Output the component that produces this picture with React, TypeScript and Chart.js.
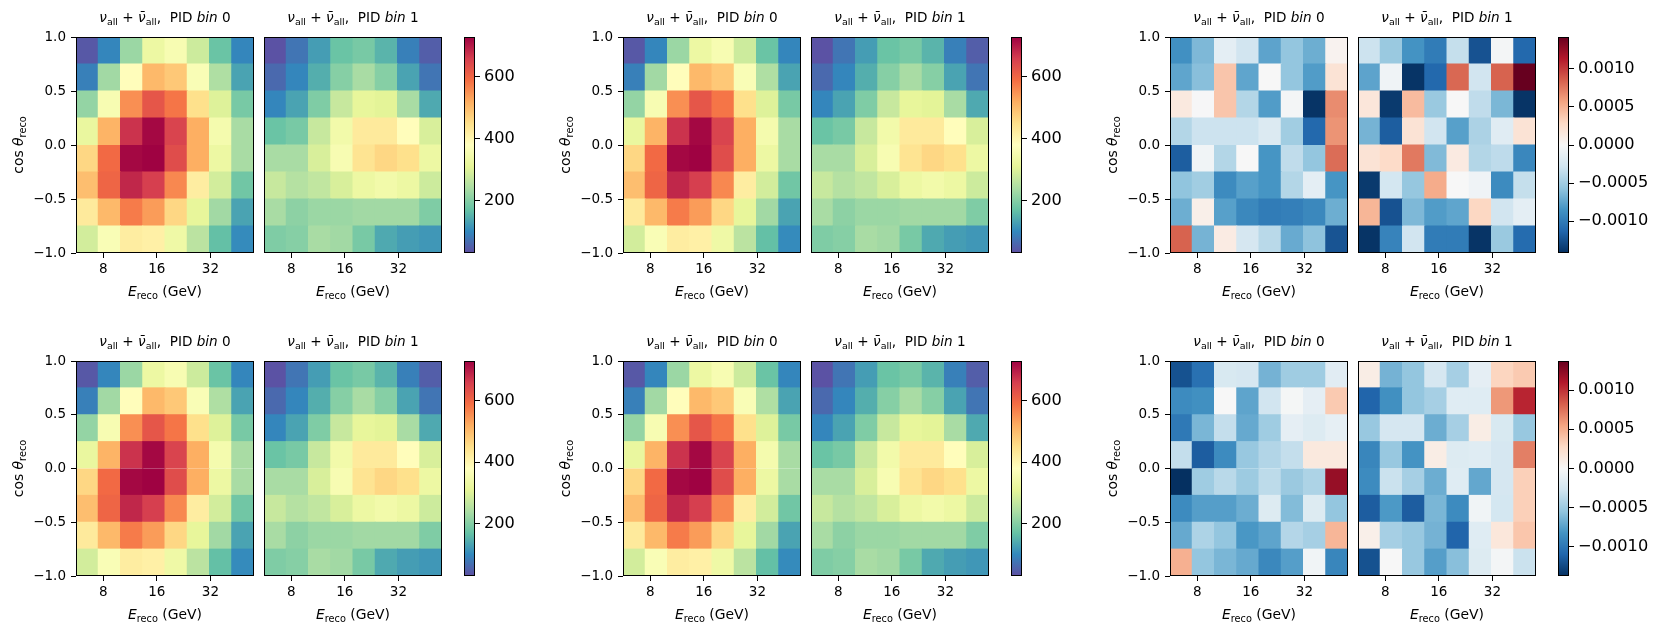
import React, { useEffect, useRef } from 'react';
import { Chart, registerables } from 'chart.js';

Chart.register(...registerables);
Chart.defaults.font.family = '"DejaVu Sans", sans-serif';
Chart.defaults.color = '#000';

// ---------------- data ----------------
// reconstructed energy bin edges (GeV, log-uniform) and cos(zenith) bin edges
const energyBinEdges = [5.623, 7.499, 10.0, 13.335, 17.783, 23.714, 31.623, 42.17, 56.234];
const cosZenithBinEdges = [-1.0, -0.75, -0.5, -0.25, 0.0, 0.25, 0.5, 0.75, 1.0];
const energyTickValues = [8, 16, 32];
const cosZenithTickValues = [-1.0, -0.5, 0.0, 0.5, 1.0];
const countTickValues = [200, 400, 600];
const diffTickValues = [-0.001, -0.0005, 0.0, 0.0005, 0.001];
const countColorRange = [30, 728];
const diffColorLimits = [0.00142, 0.00137]; // symmetric limits, top row / bottom row
const pidBins = [0, 1];

// each matrix: rows from top (cos 0.75..1.0) to bottom (cos -1.0..-0.75), columns = energy bins
const countsPid0 = [
  [41, 97, 223, 328, 356, 279, 174, 97],
  [90, 230, 384, 503, 482, 363, 244, 132],
  [216, 356, 552, 622, 580, 447, 300, 188],
  [321, 510, 671, 720, 650, 517, 349, 237],
  [461, 594, 720, 727, 636, 517, 328, 237],
  [496, 601, 685, 657, 559, 419, 286, 181],
  [426, 503, 573, 538, 461, 314, 230, 132],
  [286, 363, 419, 412, 335, 258, 167, 104],
];
const countsPid1 = [
  [34, 76, 125, 174, 188, 153, 90, 48],
  [62, 97, 146, 202, 237, 202, 132, 76],
  [97, 132, 195, 272, 314, 307, 237, 139],
  [174, 188, 272, 342, 426, 426, 384, 293],
  [237, 237, 293, 356, 440, 461, 447, 328],
  [272, 251, 265, 293, 328, 342, 328, 279],
  [237, 209, 223, 223, 230, 230, 230, 195],
  [195, 202, 237, 230, 188, 139, 125, 118],
];
const diffTopPid0 = [
  [-0.00087, -0.00064, -0.00014, -0.00028, -0.00076, -0.00056, -0.0007, 0.00005],
  [-0.00075, -0.0006, 0.0004, -0.00075, 0.0, -0.00056, -0.0008, 0.0002],
  [0.00014, -0.00001, 0.0004, -0.00042, -0.0008, -0.00003, -0.0014, 0.00067],
  [-0.00042, -0.0003, -0.0003, -0.0003, -0.0002, -0.0005, -0.00112, 0.00064],
  [-0.00118, -0.00005, -0.00042, 0.0, -0.00084, -0.00036, -0.00056, 0.0008],
  [-0.00057, -0.0005, -0.0009, -0.00078, -0.00084, -0.00042, -0.00014, -0.00084],
  [-0.0007, 0.00008, -0.00078, -0.00092, -0.001, -0.00098, -0.00092, -0.0007],
  [0.00084, -0.00067, 0.00012, -0.00025, -0.00039, -0.00072, -0.00058, -0.00123],
];
const diffTopPid1 = [
  [-0.0003, -0.00053, -0.00085, -0.001, -0.00034, -0.00124, -0.00003, -0.00112],
  [-0.00076, -0.00006, -0.0014, -0.00112, 0.00082, -0.00028, 0.00084, 0.00142],
  [0.00017, -0.00137, 0.00045, -0.00053, 0.0, -0.00036, -0.00065, -0.0014],
  [-0.00067, -0.00118, 0.0002, -0.00028, -0.00078, -0.00045, -0.00017, 0.0002],
  [0.0002, 0.00027, 0.00075, -0.00063, 0.00013, -0.00042, -0.00037, -0.00093],
  [-0.00137, -0.00026, -0.00055, 0.00053, 0.0, -0.00006, -0.0009, -0.00034],
  [0.00048, -0.00124, -0.00064, -0.0008, -0.00075, 0.0003, -0.00028, -0.00014],
  [-0.0014, -0.00095, -0.00028, -0.001, -0.001, -0.0014, -0.00053, -0.0011],
];
const diffBottomPid0 = [
  [-0.0012, -0.00103, -0.00022, -0.00024, -0.00065, -0.00049, -0.00049, -0.00016],
  [-0.00087, -0.00084, 0.0, -0.00073, -0.00027, -0.00002, -0.00013, 0.00036],
  [-0.00098, -0.00063, -0.00033, -0.0007, -0.00049, -0.00013, -0.00019, -0.00012],
  [-0.00033, -0.00114, -0.00087, -0.00052, -0.00041, -0.00033, 0.00014, 0.00014],
  [-0.00137, -0.00049, -0.00038, -0.0005, -0.00036, -0.00051, -0.00043, 0.0012],
  [-0.00087, -0.00076, -0.00076, -0.00068, -0.00019, -0.0006, -0.00019, -0.00054],
  [-0.0007, -0.00043, -0.00054, -0.0008, -0.00073, -0.0004, -0.00046, 0.00046],
  [0.00049, -0.00054, -0.00063, -0.0007, -0.00089, -0.00076, -0.00005, -0.0009],
];
const diffBottomPid1 = [
  [0.0001, -0.00065, -0.00054, -0.00024, -0.00046, -0.00013, 0.0003, 0.00036],
  [-0.0011, -0.00084, -0.00054, -0.00046, -0.00017, -0.00017, 0.0006, 0.00105],
  [-0.00052, -0.00024, -0.00024, -0.00068, -0.00046, 0.0001, -0.00022, -0.00052],
  [-0.0009, -0.00052, -0.00082, 0.0001, -0.00019, -0.00017, -0.00024, 0.0007],
  [-0.00087, -0.0003, -0.00046, -0.00068, -0.00017, -0.00071, -0.00024, 0.00033],
  [-0.00114, -0.00079, -0.00114, -0.00063, -0.00087, -0.00005, -0.00025, 0.00033],
  [0.00008, -0.00046, -0.00052, -0.00065, -0.0011, -0.00017, 0.00016, 0.00038],
  [-0.0012, 0.0, -0.00052, -0.00076, -0.00058, -0.00019, -0.00003, -0.0003],
];

// ---------------- styling / layout ----------------
const SPECTRAL_R = ['#5e4fa2', '#3288bd', '#66c2a5', '#abdda4', '#e6f598', '#ffffbf', '#fee08b', '#fdae61', '#f46d43', '#d53e4f', '#9e0142'];
const RDBU_R = ['#053061', '#2166ac', '#4393c3', '#92c5de', '#d1e5f0', '#f7f7f7', '#fddbc7', '#f4a582', '#d6604d', '#b2182b', '#67001f'];

const FONT = '"DejaVu Sans", sans-serif';
const TICK_SIZE = 13.5;
const CB_TICK_SIZE = 16.2;
const PANEL_W = 178;
const CB_W = 11;
const PAD_L = 75;
const PAD_R = 6;
const PAD_T = 40;
const PAD_B = 50;
const Y_AXIS_W = 45;
const X_AXIS_H = 30;
const CB_AXIS_W = 84;
const ROWS = [
  { top: 37, height: 216 },
  { top: 361, height: 215 },
];
const GROUPS = [
  { lefts: [76, 264], cbLeft: 464, kind: 'counts' },
  { lefts: [623, 811], cbLeft: 1011, kind: 'counts' },
  { lefts: [1170, 1358], cbLeft: 1558, kind: 'diff' },
];

function hexToRgb(h: string) {
  return [1, 3, 5].map((i) => parseInt(h.slice(i, i + 2), 16));
}
function colormap(stops: string[], t: number) {
  const tt = Math.min(1, Math.max(0, t));
  const pos = tt * (stops.length - 1);
  const i = Math.min(stops.length - 2, Math.floor(pos));
  const f = pos - i;
  const a = hexToRgb(stops[i]);
  const b = hexToRgb(stops[i + 1]);
  const c = a.map((v, k) => Math.round(v + (b[k] - v) * f));
  return `rgb(${c[0]},${c[1]},${c[2]})`;
}
const signed = (v: number, d: number) => (v < 0 ? '\u2212' : '') + Math.abs(v).toFixed(d);

type Run = { t: string; it?: boolean; sub?: boolean };
function drawRich(ctx: CanvasRenderingContext2D, runs: Run[], cx: number, cy: number, size: number) {
  const fontOf = (r: Run) => `${r.it ? 'italic ' : ''}${r.sub ? size * 0.7 : size}px ${FONT}`;
  let total = 0;
  const widths = runs.map((r) => {
    ctx.font = fontOf(r);
    const w = ctx.measureText(r.t).width;
    total += w;
    return w;
  });
  let x = cx - total / 2;
  ctx.textAlign = 'left';
  ctx.textBaseline = 'alphabetic';
  ctx.fillStyle = '#000';
  const base = cy + size * 0.36;
  runs.forEach((r, i) => {
    ctx.font = fontOf(r);
    ctx.fillText(r.t, x, base + (r.sub ? size * 0.24 : 0));
    x += widths[i];
  });
}

const titleRuns = (pid: number): Run[] => [
  { t: 'ν', it: true },
  { t: 'all', sub: true },
  { t: ' + ' },
  { t: 'ν\u0304', it: true },
  { t: 'all', sub: true },
  { t: ',  PID ' },
  { t: 'bin', it: true },
  { t: ' ' + pid },
];
const xLabelRuns: Run[] = [{ t: 'E', it: true }, { t: 'reco', sub: true }, { t: ' (GeV)' }];
const yLabelRuns: Run[] = [{ t: 'cos ' }, { t: 'θ', it: true }, { t: 'reco', sub: true }];

function heatmapConfig(values: number[][], colorOf: (v: number) => string, showY: boolean, pid: number): any {
  const points: any[] = [];
  const colors: string[] = [];
  values.forEach((row, r) => {
    const lo = cosZenithBinEdges[7 - r];
    const hi = cosZenithBinEdges[8 - r];
    row.forEach((v, c) => {
      points.push({ x: Math.sqrt(energyBinEdges[c] * energyBinEdges[c + 1]), y: [lo, hi] });
      colors.push(colorOf(v));
    });
  });
  const decor = {
    id: 'decor',
    afterDraw(chart: any) {
      const { ctx, chartArea: a } = chart;
      ctx.save();
      ctx.strokeStyle = '#000';
      ctx.lineWidth = 1;
      ctx.strokeRect(a.left + 0.5, a.top + 0.5, a.right - a.left - 1, a.bottom - a.top - 1);
      const cx = (a.left + a.right) / 2;
      drawRich(ctx, titleRuns(pid), cx, a.top - 20, 13.6);
      drawRich(ctx, xLabelRuns, cx, a.bottom + 37.5, 13.9);
      if (showY) {
        ctx.translate(a.left - 58, (a.top + a.bottom) / 2);
        ctx.rotate(-Math.PI / 2);
        drawRich(ctx, yLabelRuns, 0, 0, 13.9);
      }
      ctx.restore();
    },
  };
  return {
    type: 'bar',
    data: {
      datasets: [
        {
          data: points,
          backgroundColor: colors,
          borderWidth: 0,
          barPercentage: 1,
          categoryPercentage: 1,
          inflateAmount: 0.5,
          grouped: false,
        },
      ],
    },
    options: {
      responsive: false,
      animation: false,
      events: [],
      layout: {
        padding: { left: showY ? PAD_L - Y_AXIS_W : PAD_L, right: PAD_R, top: PAD_T, bottom: PAD_B - X_AXIS_H },
      },
      plugins: { legend: { display: false }, tooltip: { enabled: false }, title: { display: false } },
      scales: {
        x: {
          type: 'logarithmic',
          min: energyBinEdges[0],
          max: energyBinEdges[energyBinEdges.length - 1],
          bounds: 'data',
          offset: false,
          afterBuildTicks: (s: any) => {
            s.ticks = energyTickValues.map((value) => ({ value }));
          },
          afterFit: (s: any) => {
            s.height = X_AXIS_H;
          },
          ticks: {
            callback: (v: any) => String(v),
            font: { size: TICK_SIZE, family: FONT },
            color: '#000',
            padding: 3,
            maxRotation: 0,
            autoSkip: false,
          },
          grid: { display: true, drawOnChartArea: false, drawTicks: true, tickLength: 5, tickColor: '#000', color: '#000', offset: false },
          border: { display: false },
        },
        y: {
          type: 'linear',
          min: -1,
          max: 1,
          bounds: 'data',
          display: showY,
          afterBuildTicks: (s: any) => {
            s.ticks = cosZenithTickValues.map((value) => ({ value }));
          },
          afterFit: (s: any) => {
            s.width = showY ? Y_AXIS_W : 0;
          },
          ticks: {
            callback: (v: any) => signed(Number(v), 1),
            font: { size: TICK_SIZE, family: FONT },
            color: '#000',
            padding: 5,
            autoSkip: false,
          },
          grid: { display: true, drawOnChartArea: false, drawTicks: true, tickLength: 5, tickColor: '#000', color: '#000' },
          border: { display: false },
        },
      },
    },
    plugins: [decor],
  };
}

function colorbarConfig(stops: string[], min: number, max: number, tickValues: number[], fmt: (v: number) => string): any {
  const bar = {
    id: 'colorbar',
    beforeDatasetsDraw(chart: any) {
      const { ctx, chartArea: a } = chart;
      const g = ctx.createLinearGradient(0, a.bottom, 0, a.top);
      stops.forEach((c, i) => g.addColorStop(i / (stops.length - 1), c));
      ctx.save();
      ctx.fillStyle = g;
      ctx.fillRect(a.left, a.top, a.right - a.left, a.bottom - a.top);
      ctx.strokeStyle = '#000';
      ctx.lineWidth = 1;
      ctx.strokeRect(a.left + 0.5, a.top + 0.5, a.right - a.left - 1, a.bottom - a.top - 1);
      ctx.restore();
    },
  };
  return {
    type: 'scatter',
    data: { datasets: [{ data: [] }] },
    options: {
      responsive: false,
      animation: false,
      events: [],
      layout: { padding: { left: 0, right: 3, top: PAD_T, bottom: PAD_B } },
      plugins: { legend: { display: false }, tooltip: { enabled: false } },
      scales: {
        x: { display: false, min: 0, max: 1 },
        y: {
          position: 'right',
          min,
          max,
          bounds: 'data',
          afterBuildTicks: (s: any) => {
            s.ticks = tickValues.map((value) => ({ value }));
          },
          afterFit: (s: any) => {
            s.width = CB_AXIS_W;
          },
          ticks: { callback: (v: any) => fmt(Number(v)), font: { size: CB_TICK_SIZE, family: FONT }, color: '#000', padding: 4, autoSkip: false },
          grid: { display: true, drawOnChartArea: false, drawTicks: true, tickLength: 5, tickColor: '#000', color: '#000' },
          border: { display: false },
        },
      },
    },
    plugins: [bar],
  };
}

function ChartBox(props: { left: number; top: number; width: number; height: number; make: () => any }) {
  const ref = useRef<HTMLCanvasElement>(null);
  useEffect(() => {
    const chart = new Chart(ref.current as HTMLCanvasElement, props.make());
    return () => chart.destroy();
  }, []);
  return (
    <canvas
      ref={ref}
      width={props.width}
      height={props.height}
      style={{ position: 'absolute', left: props.left, top: props.top, width: props.width, height: props.height }}
    />
  );
}

export default function App() {
  const boxes: any[] = [];
  ROWS.forEach((row, ri) => {
    const diffData = ri === 0 ? [diffTopPid0, diffTopPid1] : [diffBottomPid0, diffBottomPid1];
    const lim = diffColorLimits[ri];
    GROUPS.forEach((grp, gi) => {
      const isDiff = grp.kind === 'diff';
      const colorOf = isDiff
        ? (v: number) => colormap(RDBU_R, (v + lim) / (2 * lim))
        : (v: number) => colormap(SPECTRAL_R, (v - countColorRange[0]) / (countColorRange[1] - countColorRange[0]));
      pidBins.forEach((pid, pi) => {
        const values = isDiff ? diffData[pi] : pi === 0 ? countsPid0 : countsPid1;
        const showY = pi === 0;
        boxes.push(
          <ChartBox
            key={`p-${ri}-${gi}-${pi}`}
            left={grp.lefts[pi] - PAD_L}
            top={row.top - PAD_T}
            width={PAD_L + PANEL_W + PAD_R}
            height={PAD_T + row.height + PAD_B}
            make={() => heatmapConfig(values, colorOf, showY, pid)}
          />
        );
      });
      boxes.push(
        <ChartBox
          key={`cb-${ri}-${gi}`}
          left={grp.cbLeft}
          top={row.top - PAD_T}
          width={CB_W + CB_AXIS_W + 3}
          height={PAD_T + row.height + PAD_B}
          make={() =>
            isDiff
              ? colorbarConfig(RDBU_R, -lim, lim, diffTickValues, (v) => signed(v, 4))
              : colorbarConfig(SPECTRAL_R, countColorRange[0], countColorRange[1], countTickValues, (v) => String(Math.round(v)))
          }
        />
      );
    });
  });
  return (
    <div style={{ position: 'fixed', left: 0, top: 0, width: 1660, height: 633, background: '#fff', overflow: 'hidden' }}>
      {boxes}
    </div>
  );
}
